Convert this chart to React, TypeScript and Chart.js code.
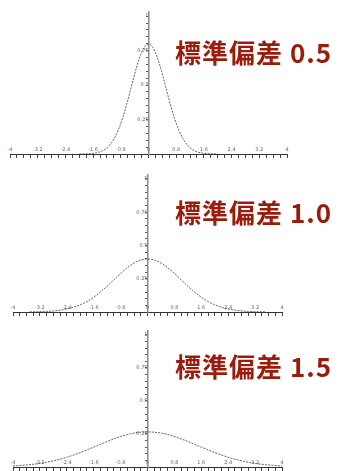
import React, { useEffect, useRef } from "react";
import { Chart, registerables } from "chart.js";

Chart.register(...registerables);

// σ = 0.5
const X_SD05 = [-2, -1.875, -1.75, -1.625, -1.5, -1.375, -1.25, -1.125, -1, -0.875, -0.75, -0.625, -0.5, -0.375, -0.25, -0.125, 0, 0.125, 0.25, 0.375, 0.5, 0.625, 0.75, 0.875, 1, 1.125, 1.25, 1.375, 1.5, 1.625, 1.75, 1.875, 2];
const Y_SD05 = [0.0, 0.001, 0.002, 0.004, 0.009, 0.018, 0.035, 0.064, 0.108, 0.173, 0.259, 0.365, 0.484, 0.602, 0.704, 0.773, 0.798, 0.773, 0.704, 0.602, 0.484, 0.365, 0.259, 0.173, 0.108, 0.064, 0.035, 0.018, 0.009, 0.004, 0.002, 0.001, 0.0];

// σ = 1.0
const X_SD10 = [-3.5, -3.25, -3, -2.75, -2.5, -2.25, -2, -1.75, -1.5, -1.25, -1, -0.75, -0.5, -0.25, 0, 0.25, 0.5, 0.75, 1, 1.25, 1.5, 1.75, 2, 2.25, 2.5, 2.75, 3, 3.25, 3.5];
const Y_SD10 = [0.001, 0.002, 0.004, 0.009, 0.018, 0.032, 0.054, 0.086, 0.13, 0.183, 0.242, 0.301, 0.352, 0.387, 0.399, 0.387, 0.352, 0.301, 0.242, 0.183, 0.13, 0.086, 0.054, 0.032, 0.018, 0.009, 0.004, 0.002, 0.001];

// σ = 1.5
const X_SD15 = [-4, -3.75, -3.5, -3.25, -3, -2.75, -2.5, -2.25, -2, -1.75, -1.5, -1.25, -1, -0.75, -0.5, -0.25, 0, 0.25, 0.5, 0.75, 1, 1.25, 1.5, 1.75, 2, 2.25, 2.5, 2.75, 3, 3.25, 3.5, 3.75, 4];
const Y_SD15 = [0.008, 0.012, 0.018, 0.025, 0.036, 0.05, 0.066, 0.086, 0.109, 0.135, 0.161, 0.188, 0.213, 0.235, 0.252, 0.262, 0.266, 0.262, 0.252, 0.235, 0.213, 0.188, 0.161, 0.135, 0.109, 0.086, 0.066, 0.05, 0.036, 0.025, 0.018, 0.012, 0.008];

const X_TICK_LABELS = ["-4", "-3.2", "-2.4", "-1.6", "-0.8", "0", "0.8", "1.6", "2.4", "3.2", "4"];
const Y_TICK_LABELS = ["0.25", "0.5", "0.75", "1"];
const TITLES = ["標準偏差 0.5", "標準偏差 1.0", "標準偏差 1.5"];

const TICK_FONT = { family: "DejaVu Sans", size: 5 };

function labelFor(list: string[], v: number): string {
  for (const l of list) {
    if (Math.abs(parseFloat(l) - v) < 1e-6) return l;
  }
  return "";
}

type PanelProps = {
  xs: number[];
  ys: number[];
  top: number;
  height: number;
  padding: { left: number; right: number; top: number; bottom: number };
  title: string;
  titleTop: number;
};

function Panel({ xs, ys, top, height, padding, title, titleTop }: PanelProps) {
  const ref = useRef<HTMLCanvasElement | null>(null);
  useEffect(() => {
    if (!ref.current) return;
    const chart = new Chart(ref.current, {
      type: "line",
      data: {
        datasets: [
          {
            data: xs.map((x, i) => ({ x, y: ys[i] })),
            borderColor: "#3a3a3a",
            borderWidth: 0.8,
            borderDash: [2, 1.2],
            pointRadius: 0,
            fill: false,
            cubicInterpolationMode: "monotone",
          },
        ],
      },
      options: {
        responsive: false,
        animation: false,
        layout: { padding },
        plugins: { legend: { display: false }, tooltip: { enabled: false } },
        scales: {
          x: {
            type: "linear",
            min: -4,
            max: 4,
            position: { y: 0 } as any,
            border: { color: "#333", width: 1 },
            grid: { drawOnChartArea: false, drawTicks: true, tickLength: 3, color: "#444" },
            ticks: {
              stepSize: 0.2,
              autoSkip: false,
              maxRotation: 0,
              minRotation: 0,
              padding: -10,
              font: TICK_FONT,
              color: "#666",
              callback: (v: any) => labelFor(X_TICK_LABELS, Number(v)),
            },
          },
          y: {
            type: "linear",
            min: 0,
            max: 1.03,
            position: { x: 0 } as any,
            border: { color: "#8a8a8a", width: 1.5 },
            grid: { drawOnChartArea: false, drawTicks: true, tickLength: 2, color: "#555" },
            ticks: {
              stepSize: 0.05,
              includeBounds: false,
              autoSkip: false,
              padding: 1,
              font: TICK_FONT,
              color: "#666",
              callback: (v: any) => labelFor(Y_TICK_LABELS, Number(v)),
            },
          },
        },
      },
    });
    return () => chart.destroy();
  }, []);
  return (
    <>
      <canvas
        ref={ref}
        width={338}
        height={height}
        style={{ position: "absolute", left: 0, top, width: 338, height }}
      />
      <div
        style={{
          position: "absolute",
          left: 175,
          top: titleTop,
          fontFamily: "'Noto Sans CJK JP', 'Noto Sans', sans-serif",
          fontWeight: 700,
          fontSize: 26,
          letterSpacing: 1,
          lineHeight: "30px",
          color: "#9b1b0c",
          whiteSpace: "nowrap",
        }}
      >
        {title}
      </div>
    </>
  );
}

export default function App() {
  return (
    <div
      style={{
        position: "fixed",
        left: 0,
        top: 0,
        width: 338,
        height: 471,
        background: "#ffffff",
        overflow: "hidden",
      }}
    >
      <Panel
        xs={X_SD05}
        ys={Y_SD05}
        top={0}
        height={160}
        padding={{ left: 10, right: 51, top: 12, bottom: 6 }}
        title={TITLES[0]}
        titleTop={37}
      />
      <Panel
        xs={X_SD10}
        ys={Y_SD10}
        top={160}
        height={158}
        padding={{ left: 13, right: 56, top: 15, bottom: 6 }}
        title={TITLES[1]}
        titleTop={197}
      />
      <Panel
        xs={X_SD15}
        ys={Y_SD15}
        top={318}
        height={153}
        padding={{ left: 13, right: 56, top: 13, bottom: 3 }}
        title={TITLES[2]}
        titleTop={351}
      />
    </div>
  );
}
